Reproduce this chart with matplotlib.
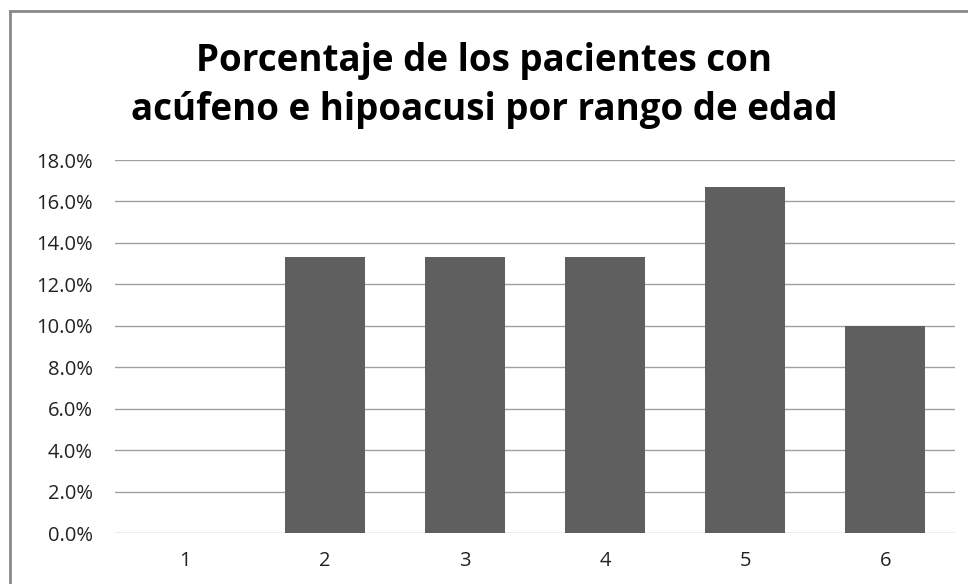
import matplotlib
matplotlib.use("Agg")
from matplotlib import pyplot as plt
from matplotlib.lines import Line2D
from matplotlib.ticker import FuncFormatter

categories = ["1", "2", "3", "4", "5", "6"]
percentages = [0.0, 13.3, 13.3, 13.3, 16.7, 10.0]
y_ticks = [0, 2, 4, 6, 8, 10, 12, 14, 16, 18]
title = "Porcentaje de los pacientes con\nacúfeno e hipoacusi por rango de edad"


def main():
    plt.rcParams["font.family"] = ["Open Sans", "DejaVu Sans"]
    fig = plt.figure(figsize=(9.68, 5.84), dpi=100)
    ax = fig.add_axes([0.119, 0.087, 0.868, 0.639])

    x = range(len(categories))
    ax.bar(x, percentages, width=0.57, color="#5f5f5f", zorder=3)

    ax.set_xlim(-0.5, len(categories) - 0.5)
    ax.set_ylim(0, 18)
    ax.set_yticks(y_ticks)
    ax.yaxis.set_major_formatter(FuncFormatter(lambda v, p: f"{v:.1f}%"))
    ax.set_xticks(list(x))
    ax.set_xticklabels(categories)
    ax.grid(axis="y", color="#a0a0a0", lw=1, zorder=0)
    for s in ax.spines.values():
        s.set_visible(False)
    ax.tick_params(axis="both", length=0, labelsize=14.5, colors="#222222")
    ax.tick_params(axis="y", pad=16)
    ax.tick_params(axis="x", pad=13)

    fig.text(0.5, 0.853, title, ha="center", va="center", fontsize=26.5,
             fontweight="bold", linespacing=1.38)

    # chart frame (top and left edges visible)
    fig.add_artist(Line2D([0.0103, 1.0], [0.981, 0.981], color="#8a8a8a", lw=2))
    fig.add_artist(Line2D([0.0103, 0.0103], [0.0, 0.981], color="#8a8a8a", lw=2))

    fig.savefig("out.png", dpi=100)


if __name__ == '__main__':
    main()
